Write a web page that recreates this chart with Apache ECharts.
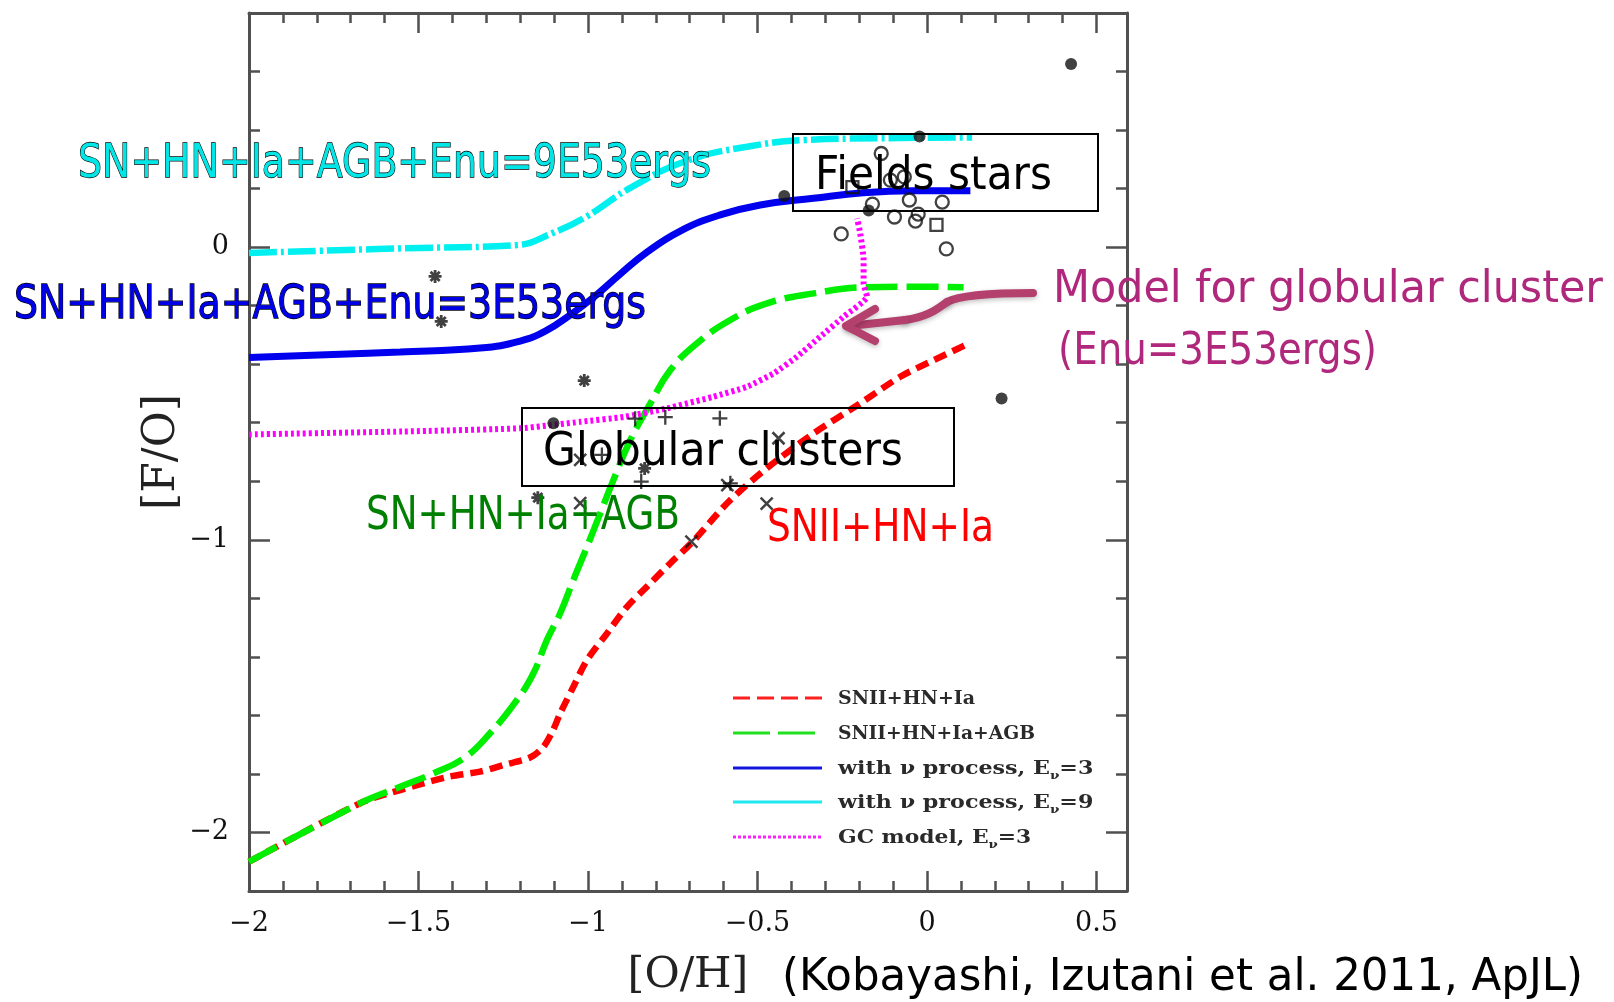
<!DOCTYPE html>
<html><head><meta charset="utf-8">
<script src="https://cdn.jsdelivr.net/npm/echarts@6/dist/echarts.min.js"></script>
<style>html,body{margin:0;padding:0;background:#fff;}#c{width:1614px;height:1002px;}</style>
</head><body><div id="c"></div>
<script>
// ---------------- data ----------------
const xTicks = [-2, -1.5, -1, -0.5, 0, 0.5];
const yTicks = [-2, -1, 0];

const lineNames = ['SNII+HN+Ia', 'SNII+HN+Ia+AGB', 'with ν process, Eν=3', 'with ν process, Eν=9', 'GC model, Eν=3'];

const snIIHNIa = [[-2.000,-2.100],[-1.672,-1.900],[-1.554,-1.855],[-1.416,-1.811],[-1.318,-1.792],[-1.250,-1.770],[-1.171,-1.744],[-1.132,-1.708],[-1.103,-1.650],[-1.082,-1.593],[-1.043,-1.502],[-1.003,-1.411],[-0.944,-1.320],[-0.885,-1.229],[-0.826,-1.160],[-0.757,-1.080],[-0.689,-1.004],[-0.586,-0.871],[-0.472,-0.755],[-0.334,-0.636],[-0.197,-0.534],[-0.079,-0.443],[0.020,-0.386],[0.113,-0.335]];
const snIIHNIaAGB = [[-2.000,-2.100],[-1.672,-1.900],[-1.554,-1.844],[-1.456,-1.798],[-1.367,-1.747],[-1.289,-1.661],[-1.210,-1.548],[-1.161,-1.456],[-1.121,-1.342],[-1.082,-1.251],[-1.043,-1.137],[-1.003,-1.024],[-0.964,-0.910],[-0.925,-0.796],[-0.875,-0.659],[-0.816,-0.534],[-0.757,-0.420],[-0.679,-0.329],[-0.580,-0.249],[-0.472,-0.192],[-0.334,-0.158],[-0.187,-0.137],[-0.039,-0.135],[0.108,-0.137]];
const nuE3 = [[-2.000,-0.377],[-1.554,-0.358],[-1.318,-0.345],[-1.200,-0.321],[-1.126,-0.287],[-1.053,-0.232],[-0.982,-0.170],[-0.905,-0.092],[-0.826,-0.017],[-0.728,0.055],[-0.610,0.110],[-0.492,0.144],[-0.335,0.167],[-0.188,0.186],[-0.040,0.193],[0.128,0.193]];
const nuE9 = [[-2.000,-0.020],[-1.548,-0.004],[-1.209,0.007],[-1.107,0.047],[-1.005,0.104],[-0.870,0.206],[-0.701,0.298],[-0.531,0.343],[-0.362,0.366],[-0.138,0.372],[0.133,0.375]];
const gcModel = [[-2.000,-0.640],[-1.548,-0.630],[-1.200,-0.619],[-1.023,-0.597],[-0.895,-0.580],[-0.767,-0.551],[-0.630,-0.511],[-0.531,-0.477],[-0.452,-0.431],[-0.383,-0.374],[-0.315,-0.306],[-0.246,-0.238],[-0.177,-0.169],[-0.187,-0.124],[-0.187,-0.044],[-0.197,0.047],[-0.206,0.098]];

const filledDots = [[0.425,0.626],[-0.022,0.378],[-0.421,0.175],[-0.172,0.125],[0.220,-0.517],[-1.102,-0.602]];
const openCircles = [[-0.135,0.320],[-0.108,0.229],[-0.067,0.240],[-0.161,0.147],[-0.052,0.161],[0.045,0.154],[-0.096,0.103],[-0.034,0.089],[-0.026,0.113],[-0.253,0.045],[0.057,-0.006]];
const openSquares = [[-0.220,0.205],[0.028,0.076]];
const asterisks = [[-1.451,-0.100],[-1.433,-0.254],[-1.011,-0.456],[-0.833,-0.756],[-1.148,-0.856]];
const pluses = [[-0.861,-0.586],[-0.772,-0.581],[-0.611,-0.585],[-0.843,-0.801],[-0.959,-0.710],[-0.580,-0.807]];
const crosses = [[-1.023,-0.727],[-1.023,-0.875],[-0.695,-1.006],[-0.473,-0.876],[-0.589,-0.813],[-0.438,-0.653]];

// ---------------- chart ----------------
const chart = echarts.init(document.getElementById('c'), null, {renderer: 'canvas'});
const GRAY = '#505050';
const SERIF = '"DejaVu Serif", serif';
const fmt = v => (v < 0 ? '\u2212' : '') + Math.abs(v);

function xAx(pos, major, labels) {
  const a = {
    type: 'value', min: -2, max: 0.59, position: pos,
    axisLine: {show: major, onZero: false, lineStyle: {color: GRAY, width: 3}},
    axisTick: {show: true, inside: true, length: major ? 20 : 10, lineStyle: {color: GRAY, width: 2.5}},
    axisLabel: {show: labels},
    splitLine: {show: false}
  };
  if (major) { a.interval = 0.5; a.axisTick.customValues = xTicks; }
  else { a.interval = 0.1; }
  if (labels) {
    a.axisLabel = {show: true, customValues: xTicks, margin: 19, fontFamily: SERIF, fontSize: 27, color: '#111', formatter: fmt};
    a.name = '[O/H]'; a.nameLocation = 'middle'; a.nameGap = 63; a.nameMoveOverlap = false;
    a.nameTextStyle = {fontFamily: SERIF, fontSize: 43, color: '#222'};
  }
  return a;
}
function yAx(pos, major, labels) {
  const a = {
    type: 'value', min: -2.2, max: 0.8, position: pos,
    axisLine: {show: major, onZero: false, lineStyle: {color: GRAY, width: 3}},
    axisTick: {show: true, inside: true, length: major ? 21 : 11, lineStyle: {color: GRAY, width: 2.5}},
    axisLabel: {show: labels},
    splitLine: {show: false}
  };
  if (major) { a.axisTick.customValues = yTicks; }
  else { a.interval = 0.2; }
  if (labels) {
    a.axisLabel = {show: true, customValues: yTicks, margin: 20, fontFamily: SERIF, fontSize: 27, color: '#111', formatter: fmt};
    a.name = '[F/O]'; a.nameLocation = 'middle'; a.nameGap = 64; a.nameMoveOverlap = false;
    a.nameTextStyle = {fontFamily: SERIF, fontSize: 44, color: '#222'};
  }
  return a;
}

function lineSeries(name, data, color, width, dash, smooth) {
  return {
    name, type: 'line', data, xAxisIndex: 0, yAxisIndex: 0,
    showSymbol: false, smooth: smooth, z: 3, silent: true,
    lineStyle: {color, width, type: dash || 'solid', cap: 'butt'}
  };
}
const PLUS = 'path://M0,5L10,5M5,0L5,10';
const CROSS = 'path://M0,0L10,10M10,0L0,10';
const STAR = 'path://M0,5L10,5M5,0L5,10M1.5,1.5L8.5,8.5M8.5,1.5L1.5,8.5';
function scat(name, data, symbol, size, filled, bw) {
  return {
    name, type: 'scatter', data, xAxisIndex: 0, yAxisIndex: 0, symbol, symbolSize: size, z: 5, silent: true,
    itemStyle: filled ? {color: '#111'} : {color: 'rgba(0,0,0,0)', borderColor: '#111', borderWidth: bw || 2.3}
  };
}

// text fitting helpers
const mctx = document.createElement('canvas').getContext('2d');
function mw(text, font) { mctx.font = font; return mctx.measureText(text).width; }
function fitScale(text, font, target) { return target / mw(text, font); }
function label(text, left, capCenter, width, fs, fill, stroke, family) {
  const fam = family || '"DejaVu Sans"';
  const font = fs + 'px ' + fam;
  const s = fitScale(text, font, width);
  const st = {text, x: 0, y: 0, font, fill, textAlign: 'left', textVerticalAlign: 'middle', verticalAlign: 'middle'};
  if (stroke) { st.stroke = stroke; st.lineWidth = 1.3; }
  return {type: 'text', x: left, y: capCenter + 0.03 * fs + 3.5, scaleX: s, z: 100, style: st};
}

const legendRows = [
  {y: 698, color: '#ff2020', dash: [17, 7]},
  {y: 733, color: '#20e020', dash: [37, 8]},
  {y: 768, color: '#1515e0', dash: null},
  {y: 802, color: '#20e8f0', dash: null},
  {y: 837, color: '#ff20ff', dash: [3, 2]}
];
const legendGraphics = [];
const LF = 'bold 18px "DejaVu Serif"';
const legendTexts = [
  {plain: 'SNII+HN+Ia', rich: '{a|SNII+HN+Ia}', w: 137},
  {plain: 'SNII+HN+Ia+AGB', rich: '{a|SNII+HN+Ia+AGB}', w: 197},
  {plain: 'with ν process, E=3', rich: '{a|with ν process, E}{b|ν}{a|=3}', w: 252},
  {plain: 'with ν process, E=9', rich: '{a|with ν process, E}{b|ν}{a|=9}', w: 252},
  {plain: 'GC model, E=3', rich: '{a|GC model, E}{b|ν}{a|=3}', w: 190}
];
legendRows.forEach((r, i) => {
  const ls = {stroke: r.color, lineWidth: 3};
  if (r.dash) ls.lineDash = r.dash;
  legendGraphics.push({type: 'line', z: 100, shape: {x1: 733, y1: r.y, x2: 822, y2: r.y}, style: ls});
  const t = legendTexts[i];
  const s = fitScale(t.plain, LF, t.w - (i >= 2 ? 6 : 0));
  legendGraphics.push({
    type: 'text', x: 838, y: r.y + 1, scaleX: s, z: 100,
    style: {
      text: t.rich, x: 0, y: 0, textAlign: 'left', verticalAlign: 'middle', textVerticalAlign: 'middle',
      rich: {
        a: {font: LF, fill: '#2a2a2a', lineHeight: 20},
        b: {font: 'bold 11px "DejaVu Serif"', fill: '#2a2a2a', padding: [14, 0, 0, 0]}
      }
    }
  });
});

const ARROW = '#b4406e';
const arrowStyle = {fill: 'none', stroke: ARROW, lineWidth: 8, lineCap: 'round', lineJoin: 'round', shadowBlur: 5, shadowColor: 'rgba(0,0,0,0.25)', shadowOffsetY: 2};
const graphics = [
  // annotation boxes
  {type: 'rect', z: 99, shape: {x: 793, y: 134, width: 305, height: 77}, style: {fill: 'none', stroke: '#000', lineWidth: 2}},
  {type: 'rect', z: 99, shape: {x: 522, y: 408, width: 432, height: 78}, style: {fill: 'none', stroke: '#000', lineWidth: 2}},
  // curved arrow
  {type: 'bezierCurve', z: 100, shape: {x1: 1033, y1: 293, cpx1: 1000, cpy1: 293, cpx2: 962, cpy2: 294, x2: 947, y2: 302}, style: arrowStyle},
  {type: 'bezierCurve', z: 100, shape: {x1: 947, y1: 302, cpx1: 937, cpy1: 309, cpx2: 928, cpy2: 317, x2: 905, y2: 320}, style: arrowStyle},
  {type: 'line', z: 100, shape: {x1: 905, y1: 320, x2: 849, y2: 326}, style: arrowStyle},
  {type: 'polyline', z: 100, shape: {points: [[875, 309], [846, 326], [875, 341]]}, style: arrowStyle},
  label('SN+HN+Ia+AGB+Enu=9E53ergs', 78, 159.5, 633, 47, '#00e6e6', '#000'),
  label('SN+HN+Ia+AGB+Enu=3E53ergs', 14, 301, 632, 47, '#0000e6', '#000'),
  label('Fields stars', 815, 172, 237, 46, '#000'),
  label('Globular clusters', 543, 448, 360, 46, '#000'),
  label('SN+HN+Ia+AGB', 366, 512, 314, 46, '#008000'),
  label('SNII+HN+Ia', 767, 525, 227, 44, '#ff0000'),
  label('Model for globular cluster', 1053, 285, 550, 45, '#b0287c'),
  label('(Enu=3E53ergs)', 1058, 347, 319, 45, '#b0287c'),
  label('(Kobayashi, Izutani et al. 2011, ApJL)', 782, 973.5, 801, 45, '#000')
].concat(legendGraphics);

const option = {
  animation: false,
  backgroundColor: '#ffffff',
  grid: {left: 249, top: 13, width: 878, height: 878, containLabel: false},
  xAxis: [xAx('bottom', true, true), xAx('bottom', false, false), xAx('top', true, false), xAx('top', false, false)],
  yAxis: [yAx('left', true, true), yAx('left', false, false), yAx('right', true, false), yAx('right', false, false)],
  series: [
    lineSeries(lineNames[0], snIIHNIa, '#ff0000', 6.5, [13, 7], 0.3),
    lineSeries(lineNames[1], snIIHNIaAGB, '#00ee00', 6.5, [32, 9], 0.45),
    lineSeries(lineNames[2], nuE3, '#0000ee', 7, null, 0.45),
    lineSeries(lineNames[3], nuE9, '#00f0f0', 6.5, [28, 4, 3, 4], 0.45),
    lineSeries(lineNames[4], gcModel, '#ff00ff', 6, [3, 3], 0.15),
    scat('filled', filledDots, 'circle', 12, true),
    scat('open circle', openCircles, 'circle', 13, false),
    scat('open square', openSquares, 'rect', 12, false),
    scat('asterisk', asterisks, STAR, 13, false, 2.8),
    scat('plus', pluses, PLUS, 15, false, 2.3),
    scat('cross', crosses, CROSS, 12, false, 2.5)
  ],
  graphic: graphics
};
chart.setOption(option);
</script>
</body></html>
